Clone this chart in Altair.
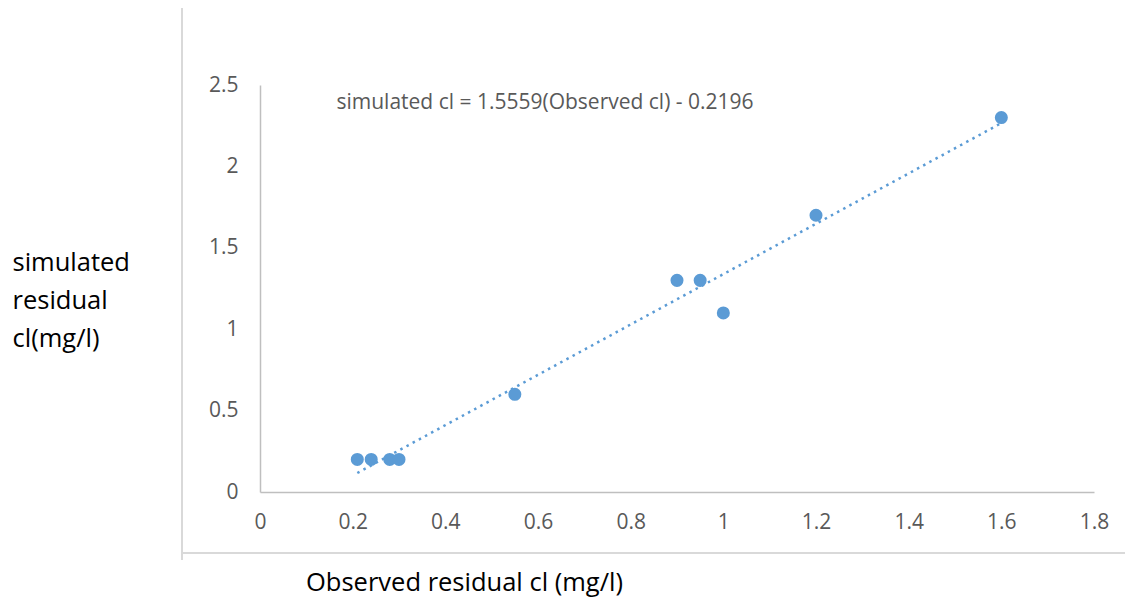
import altair as alt
import pandas as pd

observed = [0.21, 0.24, 0.28, 0.30, 0.55, 0.90, 0.95, 1.00, 1.20, 1.60]
simulated = [0.20, 0.20, 0.20, 0.20, 0.60, 1.30, 1.30, 1.10, 1.70, 2.30]
equation = "simulated cl = 1.5559(Observed cl) - 0.2196"

df = pd.DataFrame({"obs": observed, "sim": simulated})
ann = pd.DataFrame({"obs": [0.165], "sim": [2.39], "label": [equation]})

FONT = "Open Sans"
BLUE = "#5B9BD5"
GRAY = "#595959"

x = alt.X("obs:Q", scale=alt.Scale(domain=[0, 1.8], nice=False),
          axis=alt.Axis(values=[0, 0.2, 0.4, 0.6, 0.8, 1.0, 1.2, 1.4, 1.6, 1.8],
                        format="~g", grid=False, ticks=False, labelFlush=False,
                        domainColor="#BFBFBF", domainWidth=1.5,
                        labelColor=GRAY, labelFontSize=21, labelFont=FONT,
                        labelPadding=19,
                        title="Observed residual cl (mg/l)",
                        titleFont=FONT, titleFontSize=25.5, titleFontWeight="normal",
                        titleColor="#000000", titleX=204, titleY=90,
                        titleAlign="center", titleBaseline="middle"))
y = alt.Y("sim:Q", scale=alt.Scale(domain=[0, 2.5], nice=False),
          axis=alt.Axis(values=[0, 0.5, 1, 1.5, 2, 2.5], format="~g",
                        grid=False, ticks=False, labelFlush=False,
                        domainColor="#BFBFBF", domainWidth=1.5,
                        labelColor=GRAY, labelFontSize=21, labelFont=FONT,
                        labelPadding=22,
                        title=["simulated", "residual", "cl(mg/l)"],
                        titleFont=FONT, titleFontSize=25.5, titleFontWeight="normal",
                        titleColor="#000000", titleAngle=0, titleAlign="left",
                        titleBaseline="middle", titleX=-248, titleY=177,
                        titleLineHeight=38))

points = alt.Chart(df).mark_circle(size=170, color=BLUE, opacity=1).encode(x=x, y=y)

trend = alt.Chart(df).transform_regression("obs", "sim").mark_line(
    color=BLUE, strokeWidth=2.5, strokeDash=[2.5, 4.5]
).encode(x="obs:Q", y="sim:Q")

text = alt.Chart(ann).mark_text(align="left", baseline="middle", font=FONT,
                                fontSize=21, color=GRAY).encode(
    x="obs:Q", y="sim:Q", text="label:N")

frame_v = alt.Chart(df).mark_rule(color="#D9D9D9", strokeWidth=1.5).encode(
    x=alt.value(-78), y=alt.value(-77), y2=alt.value(475))
frame_h = alt.Chart(df).mark_rule(color="#D9D9D9", strokeWidth=1.5).encode(
    x=alt.value(-78), x2=alt.value(870), y=alt.value(468))

chart = alt.layer(trend, points, text, frame_v, frame_h).properties(
    width=834, height=407,
    autosize=alt.AutoSizeParams(type="none"),
    padding={"left": 260, "top": 85, "right": 31, "bottom": 106},
).configure(background="white").configure_view(strokeWidth=0)

chart.save("out.html", embed_options={"renderer": "svg", "actions": False})
